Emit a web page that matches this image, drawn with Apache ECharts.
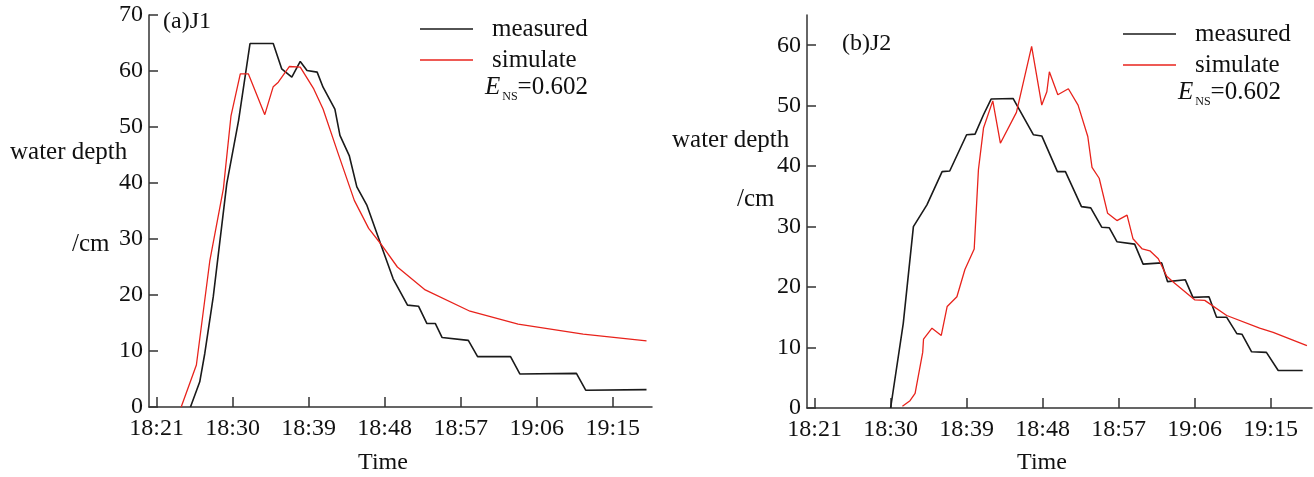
<!DOCTYPE html>
<html lang="en">

<head>
    <meta charset="UTF-8">
    <title>water depth</title>
    <script src="https://cdn.jsdelivr.net/npm/echarts@6/dist/echarts.min.js"></script>
</head>

<body style="margin:0;">
    <div id="myCharts" style="width:1314px;height:477px;background:#fff;"></div>

    <script type="text/javascript">
        // time = minutes after 18:00
        var timeTicks = [21, 30, 39, 48, 57, 66, 75]
        var depthTicksJ1 = [0, 10, 20, 30, 40, 50, 60, 70]
        var depthTicksJ2 = [0, 10, 20, 30, 40, 50, 60]

        // (a) J1
        var j1MeasuredTime = [25.0, 26.1, 26.7, 27.7, 29.3, 30.7, 32.05, 34.8, 35.8, 37.0, 38.0, 38.8, 40.0, 40.7, 42.1, 42.7, 43.8, 44.7, 45.9, 47.5, 49.0, 50.7, 52.0, 53.0, 54.0, 54.8, 57.9, 59.0, 62.9, 64.0, 70.7, 71.8, 79.0]
        var j1Measured = [0, 4.5, 9.6, 19.7, 39.9, 51.2, 64.9, 64.9, 60.4, 58.9, 61.7, 60.1, 59.8, 57.1, 53.2, 48.5, 44.9, 39.3, 36.0, 29.2, 22.9, 18.2, 18.0, 14.9, 14.9, 12.4, 11.9, 9.0, 9.0, 5.9, 6.0, 3.0, 3.1]
        var j1SimTime = [23.9, 25.7, 27.3, 28.9, 29.8, 30.9, 31.85, 33.8, 34.8, 35.4, 36.7, 38.0, 39.6, 40.7, 42.5, 44.4, 46.1, 47.5, 49.5, 52.8, 58.1, 63.8, 71.5, 79.0]
        var j1Sim = [0, 7.5, 26.2, 39.0, 52.0, 59.5, 59.5, 52.2, 57.2, 58.0, 60.8, 60.7, 56.8, 53.2, 45.2, 36.9, 31.9, 29.2, 25.0, 20.9, 17.1, 14.8, 13.0, 11.8]

        // (b) J2
        var j2MeasuredTime = [30.0, 31.5, 32.7, 34.3, 36.1, 37.0, 39.0, 40.0, 41.0, 41.9, 44.5, 46.9, 47.9, 49.75, 50.7, 52.6, 53.7, 55.0, 55.9, 56.8, 58.9, 59.9, 62.1, 62.8, 64.9, 65.8, 67.7, 68.6, 69.8, 71.0, 71.6, 72.75, 74.5, 75.9, 78.8]
        var j2Measured = [0, 14.0, 30.0, 33.6, 39.1, 39.2, 45.2, 45.3, 48.5, 51.1, 51.2, 45.2, 45.0, 39.1, 39.1, 33.3, 33.1, 29.9, 29.8, 27.5, 27.1, 23.8, 24.0, 20.9, 21.2, 18.3, 18.4, 15.0, 15.0, 12.3, 12.2, 9.3, 9.2, 6.2, 6.2]
        var j2SimTime = [31.4, 32.3, 32.9, 33.8, 33.9, 34.9, 36.0, 36.7, 37.85, 38.8, 39.9, 40.4, 41.0, 42.1, 43.0, 44.9, 46.7, 47.9, 48.5, 48.8, 49.8, 51.05, 52.2, 53.35, 53.85, 54.7, 55.7, 56.8, 58.0, 58.7, 59.8, 60.7, 61.7, 62.7, 63.5, 66.0, 67.2, 69.8, 73.7, 75.3, 79.3]
        var j2Sim = [0.3, 1.2, 2.4, 9.2, 11.4, 13.2, 12.0, 16.8, 18.4, 22.9, 26.3, 39.4, 46.3, 50.8, 43.8, 48.9, 59.8, 50.1, 52.3, 55.6, 51.8, 52.8, 50.1, 44.9, 39.8, 38.0, 32.2, 31.0, 31.9, 28.0, 26.3, 26.0, 24.7, 21.8, 20.8, 17.9, 17.8, 15.3, 13.2, 12.5, 10.3]

        var fontName = "'Liberation Serif', 'Times New Roman', serif"
        var axisColor = '#333'
        var textColor = '#111'

        function pairs(xs, ys) {
            return xs.map(function (x, i) { return [x, ys[i]] })
        }

        function clock(v) {
            var t = Math.round(v)
            var h = 18 + Math.floor(t / 60)
            var m = t % 60
            return h + ':' + (m < 10 ? '0' + m : m)
        }

        function makeX(idx, min, max) {
            return {
                type: 'value',
                gridIndex: idx,
                min: min,
                max: max,
                axisLine: { show: true, lineStyle: { color: axisColor, width: 1.5 } },
                axisTick: {
                    show: true, inside: true, length: 10,
                    customValues: timeTicks,
                    lineStyle: { color: axisColor, width: 1.5 }
                },
                axisLabel: {
                    customValues: timeTicks,
                    formatter: clock,
                    margin: 10,
                    color: textColor,
                    fontSize: 24,
                    fontFamily: fontName
                },
                splitLine: { show: false }
            }
        }

        function makeY(idx, max, ticks) {
            return {
                type: 'value',
                gridIndex: idx,
                min: 0,
                max: max,
                axisLine: { show: true, lineStyle: { color: axisColor, width: 1.5 } },
                axisTick: {
                    show: true, inside: true, length: 9,
                    customValues: ticks,
                    lineStyle: { color: axisColor, width: 1.5 }
                },
                axisLabel: {
                    customValues: ticks,
                    margin: 6,
                    color: textColor,
                    fontSize: 24,
                    fontFamily: fontName
                },
                splitLine: { show: false }
            }
        }

        function lineSeries(name, idx, data, color, width) {
            return {
                name: name,
                type: 'line',
                xAxisIndex: idx,
                yAxisIndex: idx,
                symbol: 'none',
                smooth: false,
                lineStyle: { color: color, width: width },
                itemStyle: { color: color },
                data: data
            }
        }

        function legendAt(left, top) {
            return {
                data: ['measured', 'simulate'],
                orient: 'vertical',
                left: left,
                top: top,
                icon: 'rect',
                itemWidth: 53,
                itemHeight: 1.6,
                itemGap: 3,
                textStyle: {
                    color: textColor,
                    fontSize: 25,
                    lineHeight: 28,
                    fontFamily: fontName,
                    padding: [0, 0, 0, 14]
                }
            }
        }

        function label(x, y, text, align, size) {
            return {
                type: 'text',
                x: x,
                y: y,
                style: {
                    text: text,
                    fill: textColor,
                    font: (size || 24) + 'px ' + fontName,
                    textAlign: align || 'left',
                    textVerticalAlign: 'middle'
                }
            }
        }

        function nsLabel(x, y) {
            return {
                type: 'text',
                x: x,
                y: y,
                style: {
                    text: '{e|E}{s|NS}{n|=0.602}',
                    textVerticalAlign: 'middle',
                    rich: {
                        e: { fontSize: 25, fontStyle: 'italic', fontFamily: fontName, fill: textColor, lineHeight: 30 },
                        s: { fontSize: 12, fontFamily: fontName, fill: textColor, lineHeight: 30, padding: [20, 0, 0, 2] },
                        n: { fontSize: 25, fontFamily: fontName, fill: textColor, lineHeight: 30 }
                    }
                }
            }
        }

        var myChart = echarts.init(document.getElementById('myCharts'))

        var option = {
            backgroundColor: '#fff',
            animation: false,
            grid: [
                { left: 149, right: 662, top: 15, bottom: 70 },
                { left: 807, right: 2, top: 15, bottom: 69 }
            ],
            xAxis: [makeX(0, 20.09, 79.65), makeX(1, 20.1, 79.9)],
            yAxis: [makeY(0, 70, depthTicksJ1), makeY(1, 65, depthTicksJ2)],
            legend: [legendAt(415, 10), legendAt(1118, 15)],
            graphic: [
                label(10, 152, 'water depth', 'left', 25),
                label(72, 244, '/cm', 'left', 25),
                label(672, 140, 'water depth', 'left', 25),
                label(737, 199, '/cm', 'left', 25),
                label(163, 22, '(a)J1'),
                label(842, 44, '(b)J2'),
                label(383, 463, 'Time', 'center'),
                label(1042, 463, 'Time', 'center'),
                nsLabel(485, 87),
                nsLabel(1178, 92)
            ],
            series: [
                lineSeries('measured', 0, pairs(j1MeasuredTime, j1Measured), '#1a1a1a', 1.6),
                lineSeries('simulate', 0, pairs(j1SimTime, j1Sim), '#e8231c', 1.3),
                lineSeries('measured', 1, pairs(j2MeasuredTime, j2Measured), '#1a1a1a', 1.6),
                lineSeries('simulate', 1, pairs(j2SimTime, j2Sim), '#e8231c', 1.3)
            ]
        }

        myChart.setOption(option)
    </script>
</body>

</html>
